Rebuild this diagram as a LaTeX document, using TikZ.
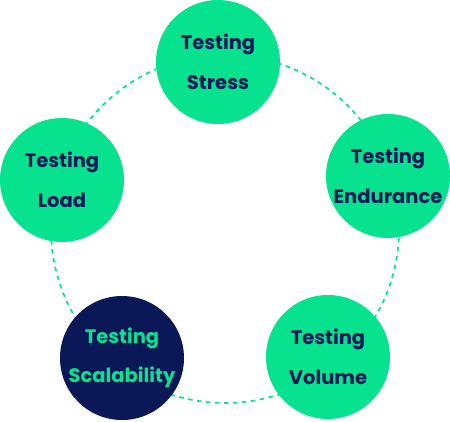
\documentclass[tikz,border=0pt]{standalone}
\usepackage{fontspec}
\setmainfont{Poppins}[BoldFont={* Bold}]
\definecolor{mint}{HTML}{07E28F}
\definecolor{navy}{HTML}{0B1858}
\tikzset{
  bubble/.style={circle, minimum size=124pt, inner sep=0pt, fill=mint, text=navy,
    font=\bfseries\fontsize{19.5}{39.5}\selectfont, align=center},
  darkbubble/.style={bubble, fill=navy, text=mint},
  ring/.style={draw=mint, line width=1.7pt, dash pattern=on 4.5pt off 4.5pt}
}
\begin{document}
\begin{tikzpicture}[x=1pt,y=-1pt]
\useasboundingbox (0,0) rectangle (450,421);
\coordinate (c) at (225,229);
\draw[ring] (c) circle[radius=174];
\node[bubble] (stress) at (218,62) {Testing\\Stress};
\node[bubble] (endurance) at (388,176) {Testing\\Endurance};
\node[bubble] (load) at (62,180) {Testing\\Load};
\node[darkbubble] (scal) at (122,358) {Testing\\Scalability};
\node[bubble] (volume) at (328,357) {Testing\\Volume};
\end{tikzpicture}
\end{document}
